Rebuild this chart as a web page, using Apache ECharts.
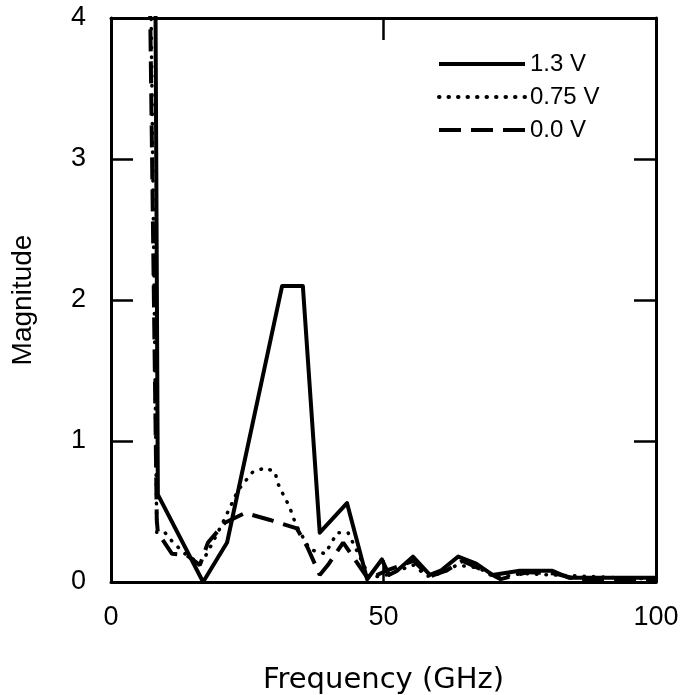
<!DOCTYPE html>
<html>
<head>
<meta charset="utf-8">
<script src="https://cdn.jsdelivr.net/npm/echarts@6/dist/echarts.min.js"></script>
<style>
  html, body { margin: 0; padding: 0; background: #fff; }
  #chart { width: 680px; height: 695px; }
</style>
</head>
<body>
<div id="chart"></div>
<script>
// frequency (GHz) / magnitude pairs
const v13 = [[8.1, 4.6], [8.6, 0.62], [16.9, 0], [21.3, 0.28], [31.4, 2.1], [35.2, 2.1], [38.3, 0.35], [43.3, 0.56], [47, 0.02],
  [49.7, 0.16], [51, 0.05], [52.5, 0.08], [55.4, 0.18], [58.5, 0.05], [60.5, 0.08], [63.7, 0.18], [67, 0.13], [70, 0.05],
  [75, 0.08], [81, 0.08], [84, 0.03], [100, 0.03]];
const v075 = [[7.2, 4.6], [8.4, 0.35], [9.9, 0.35], [11.4, 0.28], [13.6, 0.2], [16.3, 0.13], [17.6, 0.2], [20.5, 0.42], [23.3, 0.65],
  [26, 0.78], [28.3, 0.81], [30.1, 0.78], [30.6, 0.7], [31.6, 0.62], [32.8, 0.53], [33.4, 0.46], [34.3, 0.38], [36.5, 0.23],
  [39.3, 0.2], [41.5, 0.35], [43.5, 0.35], [47.5, 0.03], [50.5, 0.05], [55.5, 0.12], [58, 0.04], [60.5, 0.06], [63.5, 0.12],
  [67.5, 0.1], [70.5, 0.03], [75.5, 0.06], [81, 0.05], [100, 0.02]];
const v00 = [[7.0, 4.6], [8.4, 0.44], [8.6, 0.35], [11.2, 0.2], [13.9, 0.19], [16.3, 0.12], [17.8, 0.28], [20.9, 0.42], [24.6, 0.49],
  [29.2, 0.44], [34.1, 0.38], [36, 0.25], [38.3, 0.05], [39.8, 0.12], [42.6, 0.28], [44.4, 0.18], [47.2, 0.02], [50.5, 0.08],
  [55.5, 0.15], [58.5, 0.04], [61.5, 0.08], [64.5, 0.15], [68.5, 0.08], [71.5, 0.02], [76.5, 0.07], [81.5, 0.06], [85.5, 0.02],
  [100, 0.02]];
const seriesNames = ['1.3 V', '0.75 V', '0.0 V'];
const xTicks = [0, 50, 100];
const yTicks = [0, 1, 2, 3, 4];

const font = 'Liberation Sans';
const chart = echarts.init(document.getElementById('chart'));

const axisLine = { show: true, onZero: false, lineStyle: { color: '#000', width: 3 } };
const tick = { show: true, inside: true, length: 22, lineStyle: { color: '#000', width: 2.5 } };

option = {
  animation: false,
  backgroundColor: '#fff',
  grid: { left: 111, right: 24, top: 18, bottom: 113, outerBoundsMode: 'none' },
  legend: {
    orient: 'vertical',
    left: 432,
    top: 47,
    itemWidth: 86,
    itemHeight: 24,
    itemGap: 9,
    data: seriesNames,
    itemStyle: { opacity: 0 },
    lineStyle: { width: 4 },
    textStyle: { fontFamily: font, fontSize: 24, color: '#000' }
  },
  xAxis: [{
    type: 'value', min: xTicks[0], max: xTicks[2], interval: 50,
    name: 'Frequency (GHz)', nameLocation: 'middle', nameGap: 84,
    nameTextStyle: { fontFamily: 'DejaVu Sans', fontSize: 29, color: '#000' },
    axisLine: axisLine, axisTick: tick, splitLine: { show: false },
    axisLabel: { fontFamily: font, fontSize: 27, color: '#000', margin: 22 }
  }, {
    type: 'value', position: 'top', min: xTicks[0], max: xTicks[2], interval: 50,
    axisLine: axisLine, axisTick: tick, splitLine: { show: false }, axisLabel: { show: false }
  }],
  yAxis: [{
    type: 'value', min: yTicks[0], max: yTicks[4], interval: 1,
    name: 'Magnitude', nameLocation: 'middle', nameGap: 74,
    nameTextStyle: { fontFamily: font, fontSize: 28, color: '#000' },
    axisLine: axisLine, axisTick: tick, splitLine: { show: false },
    axisLabel: { fontFamily: font, fontSize: 27, color: '#000', margin: 25 }
  }, {
    type: 'value', position: 'right', min: yTicks[0], max: yTicks[4], interval: 1,
    axisLine: axisLine, axisTick: tick, splitLine: { show: false }, axisLabel: { show: false }
  }],
  series: [{
    name: seriesNames[0], type: 'line', data: v13, symbol: 'none',
    lineStyle: { color: '#000', width: 4, join: 'round' }, itemStyle: { color: '#000' }
  }, {
    name: seriesNames[1], type: 'line', data: v075, symbol: 'none',
    lineStyle: { color: '#000', width: 3.5, type: [0.5, 9], cap: 'round' }, itemStyle: { color: '#000' }
  }, {
    name: seriesNames[2], type: 'line', data: v00, symbol: 'none',
    lineStyle: { color: '#000', width: 4, type: [22, 10] }, itemStyle: { color: '#000' }
  }]
};

chart.setOption(option);
window.addEventListener('resize', function () { chart.resize(); });
</script>
</body>
</html>
